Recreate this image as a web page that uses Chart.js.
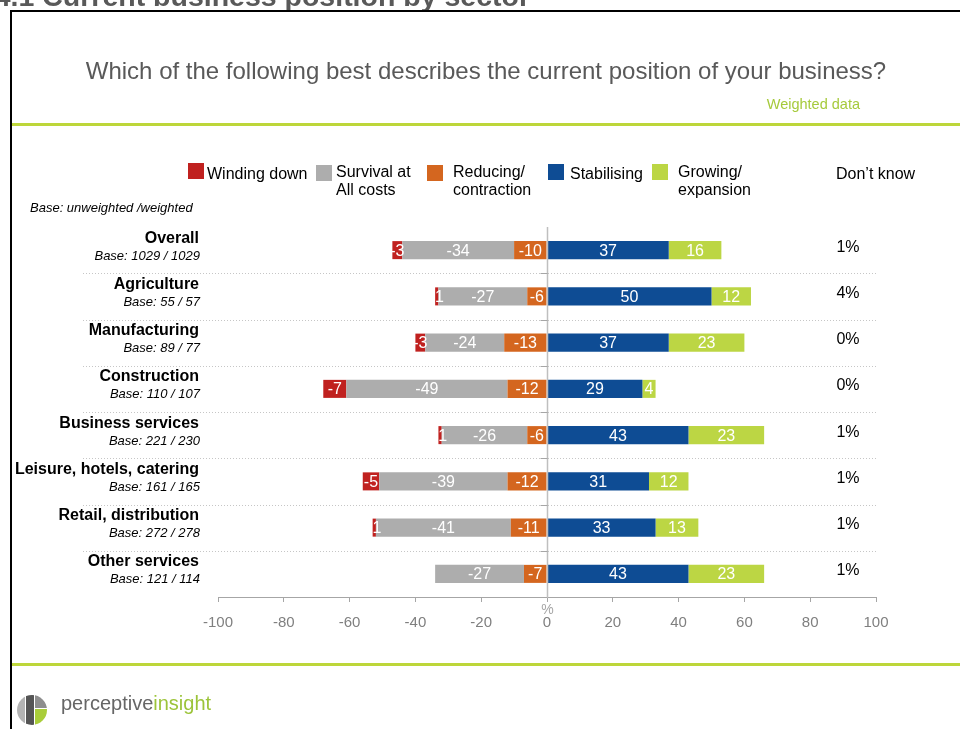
<!DOCTYPE html>
<html>
<head>
<meta charset="utf-8">
<title>Current business position by sector</title>
<script src="https://cdn.jsdelivr.net/npm/chart.js@4.4.0/dist/chart.umd.min.js"></script>
<style>
  body { margin: 0; width: 960px; height: 729px; overflow: hidden; background: #fff; position: relative;
         font-family: "Liberation Sans", Arial, sans-serif; }
  .abs { position: absolute; white-space: nowrap; }
  .key { position: absolute; width: 16px; height: 16px; }
  .lg { position: absolute; font-size: 16px; line-height: 18px; color: #000; white-space: nowrap; }
</style>
</head>
<body>
<canvas id="sectorChart" class="abs" width="960" height="729" style="left:0;top:0"></canvas>

<!-- slide furniture -->
<div class="abs" style="right:430px;top:-18px;font-size:28.5px;line-height:28px;font-weight:bold;color:#595959">4.1 Current business position by sector</div>
<div class="abs" style="left:10px;top:10px;width:2px;height:719px;background:#000"></div>
<div class="abs" style="left:10px;top:10px;width:950px;height:2px;background:#000"></div>
<div class="abs" style="left:0;width:948px;top:57px;text-align:center;font-size:24px;line-height:28px;color:#595959;padding-left:12px">Which of the following best describes the current position of your business?</div>
<div class="abs" style="right:100px;top:96px;font-size:14.5px;line-height:16px;color:#a6ca3c">Weighted data</div>
<div class="abs" style="left:12px;top:123px;width:948px;height:3px;background:#bdd63a"></div>
<div class="abs" style="left:12px;top:663px;width:948px;height:3px;background:#bdd63a"></div>

<!-- legend -->
<div class="key" style="left:188px;top:163px;background:#c0211f"></div>
<div class="lg" style="left:207px;top:165px">Winding down</div>
<div class="key" style="left:316px;top:165px;background:#adadad"></div>
<div class="lg" style="left:336px;top:163px">Survival at<br>All costs</div>
<div class="key" style="left:427px;top:165px;background:#d4661f"></div>
<div class="lg" style="left:453px;top:163px">Reducing/<br>contraction</div>
<div class="key" style="left:548px;top:164px;background:#0e4c94"></div>
<div class="lg" style="left:570px;top:165px">Stabilising</div>
<div class="key" style="left:652px;top:164px;background:#bcd644"></div>
<div class="lg" style="left:678px;top:163px">Growing/<br>expansion</div>
<div class="lg" style="left:836px;top:165px">Don’t know</div>
<div class="abs" style="left:30px;top:200px;font-size:13px;line-height:16px;font-style:italic;color:#000">Base: unweighted /weighted</div>

<!-- logo -->
<svg class="abs" style="left:16px;top:694px" width="32" height="32" viewBox="0 0 32 32">
  <defs><clipPath id="lc"><circle cx="16" cy="16" r="15"/></clipPath></defs>
  <g clip-path="url(#lc)">
    <rect x="0" y="0" width="9" height="32" fill="#b3b3b3"/>
    <rect x="10" y="0" width="8" height="32" fill="#555"/>
    <rect x="19" y="0" width="13" height="14" fill="#8e8e8e"/>
    <rect x="19" y="15" width="13" height="17" fill="#a9cd3a"/>
  </g>
</svg>
<div class="abs" style="left:61px;top:691px;font-size:20px;line-height:24px;color:#666">perceptive<span style="color:#9cc43a">insight</span></div>

<script>
// sectors, top to bottom
const categories = ['Overall', 'Agriculture', 'Manufacturing', 'Construction',
  'Business services', 'Leisure, hotels, catering', 'Retail, distribution', 'Other services'];
const bases = ['Base: 1029 / 1029', 'Base: 55 / 57', 'Base: 89 / 77', 'Base: 110 / 107',
  'Base: 221 / 230', 'Base: 161 / 165', 'Base: 272 / 278', 'Base: 121 / 114'];

// negative side (closest to zero first), positive side
const reducing    = [-10, -6, -13, -12, -6, -12, -11, -7];
const survival    = [-34, -27, -24, -49, -26, -39, -41, -27];
const windingDown = [-3, -1, -3, -7, -1, -5, -1, 0];
const stabilising = [37, 50, 37, 29, 43, 31, 33, 43];
const growing     = [16, 12, 23, 4, 23, 12, 13, 23];

const dontKnow = ['1%', '4%', '0%', '0%', '1%', '1%', '1%', '1%'];

const axisMin = -100, axisMax = 100, axisStep = 20;

const SANS = "'Liberation Sans', Arial, sans-serif";
const NARROW = "'Liberation Sans Narrow', 'Liberation Sans', Arial, sans-serif";

// zero line, row separators, segment values and the row labels
const slideDecor = {
  id: 'slideDecor',
  beforeDatasetsDraw(chart) {
    const { ctx, scales: { y } } = chart;
    ctx.save();
    ctx.strokeStyle = '#c6c6c6';
    ctx.lineWidth = 1;
    ctx.setLineDash([1, 2]);
    for (let i = 0; i < categories.length - 1; i++) {
      const yy = Math.round((y.getPixelForValue(i) + y.getPixelForValue(i + 1)) / 2) + 0.5;
      ctx.beginPath();
      ctx.moveTo(83, yy);
      ctx.lineTo(878, yy);
      ctx.stroke();
    }
    ctx.restore();
  },
  afterDatasetsDraw(chart) {
    const { ctx, chartArea, scales: { x, y } } = chart;
    const x0 = Math.round(x.getPixelForValue(0)) + 0.5;
    ctx.save();

    // zero line with small ticks between rows
    ctx.strokeStyle = '#bfbfbf';
    ctx.lineWidth = 1.5;
    ctx.beginPath();
    ctx.moveTo(x0, chartArea.top);
    ctx.lineTo(x0, chartArea.bottom);
    ctx.stroke();
    ctx.lineWidth = 1;
    ctx.strokeStyle = '#a6a6a6';
    for (let i = 0; i < categories.length - 1; i++) {
      const yy = Math.round((y.getPixelForValue(i) + y.getPixelForValue(i + 1)) / 2) + 0.5;
      ctx.beginPath();
      ctx.moveTo(x0 - 7, yy);
      ctx.lineTo(x0, yy);
      ctx.stroke();
    }

    // values inside each segment
    ctx.fillStyle = '#fff';
    ctx.font = '16px ' + SANS;
    ctx.textAlign = 'center';
    ctx.textBaseline = 'middle';
    chart.data.datasets.forEach((ds, di) => {
      chart.getDatasetMeta(di).data.forEach((bar, i) => {
        const v = ds.data[i];
        if (!v) return;
        ctx.fillText(String(v), (bar.x + bar.base) / 2, bar.y + 1);
      });
    });

    // sector names and bases
    ctx.fillStyle = '#000';
    ctx.textAlign = 'right';
    categories.forEach((name, i) => {
      const cy = y.getPixelForValue(i);
      ctx.font = 'bold 16px ' + SANS;
      ctx.fillText(name, chartArea.left - 19, cy - 12);
      ctx.font = 'italic 13px ' + SANS;
      ctx.fillText(bases[i], chartArea.left - 18, cy + 6);
    });

    // don't know column
    ctx.font = '16px ' + SANS;
    ctx.textAlign = 'center';
    dontKnow.forEach((t, i) => {
      ctx.fillText(t, chartArea.right - 28, y.getPixelForValue(i) - 3);
    });

    // axis unit
    ctx.fillStyle = '#a6a6a6';
    ctx.font = '14px ' + NARROW;
    ctx.fillText('%', x0, chartArea.bottom + 13);
    ctx.restore();
  }
};

const ctx = document.getElementById('sectorChart').getContext('2d');

new Chart(ctx, {
  type: 'bar',
  data: {
    labels: categories,
    datasets: [
      { label: 'Reducing/ contraction', data: reducing, backgroundColor: '#d4661f' },
      { label: 'Survival at All costs', data: survival, backgroundColor: '#adadad' },
      { label: 'Winding down', data: windingDown, backgroundColor: '#c0211f' },
      { label: 'Stabilising', data: stabilising, backgroundColor: '#0e4c94' },
      { label: 'Growing/ expansion', data: growing, backgroundColor: '#bcd644' }
    ]
  },
  options: {
    indexAxis: 'y',
    responsive: false,
    animation: false,
    events: [],
    layout: { padding: { left: 218, right: 84, top: 227, bottom: 0 } },
    datasets: { bar: { barPercentage: 0.39, categoryPercentage: 1, borderWidth: 0 } },
    plugins: { legend: { display: false }, tooltip: { enabled: false } },
    scales: {
      x: {
        stacked: true,
        min: axisMin,
        max: axisMax,
        ticks: { stepSize: axisStep, color: '#7f7f7f', font: { family: NARROW, size: 15 }, padding: 12 },
        grid: { drawOnChartArea: false, drawTicks: true, tickLength: 5, tickColor: '#a6a6a6' },
        border: { display: true, color: '#a6a6a6', width: 1 },
        afterFit(scale) { scale.height = 132; }
      },
      y: { stacked: true, display: false }
    }
  },
  plugins: [slideDecor]
});
</script>
</body>
</html>
